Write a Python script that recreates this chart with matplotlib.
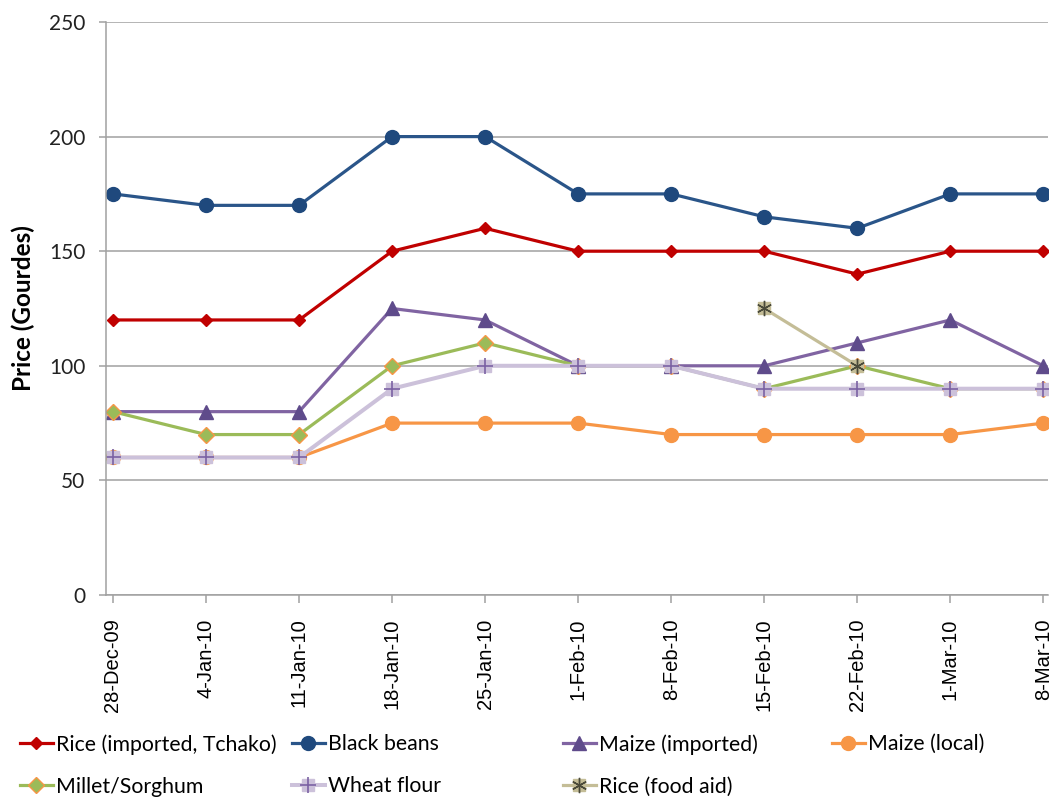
import numpy as np
import matplotlib.pyplot as plt
from matplotlib.lines import Line2D

# weekly market prices, Port-au-Prince (Gourdes)
dates = ['28-Dec-09', '4-Jan-10', '11-Jan-10', '18-Jan-10', '25-Jan-10', '1-Feb-10',
         '8-Feb-10', '15-Feb-10', '22-Feb-10', '1-Mar-10', '8-Mar-10']
nan = np.nan
rice_imported = [120, 120, 120, 150, 160, 150, 150, 150, 140, 150, 150]
black_beans = [175, 170, 170, 200, 200, 175, 175, 165, 160, 175, 175]
maize_imported = [80, 80, 80, 125, 120, 100, 100, 100, 110, 120, 100]
maize_local = [60, 60, 60, 75, 75, 75, 70, 70, 70, 70, 75]
millet_sorghum = [80, 70, 70, 100, 110, 100, 100, 90, 100, 90, 90]
wheat_flour = [60, 60, 60, 90, 100, 100, 100, 90, 90, 90, 90]
rice_food_aid = [nan, nan, nan, nan, nan, nan, nan, 125, 100, nan, nan]

x = np.arange(len(dates))

fig = plt.figure(figsize=(10.5, 7.98), dpi=100)
ax = fig.add_axes([106 / 1050, 1 - 595 / 798, 942 / 1050, 573 / 798])

lw = 2.3
handles = []

h = ax.plot(x, rice_imported, color='#C00000', lw=lw, marker='D', ms=6.5,
            mfc='#C00000', mec='#C00000', label='Rice (imported, Tchako)')[0]
handles.append(h)
h = ax.plot(x, black_beans, color='#2A5589', lw=lw, marker='o', ms=10,
            mfc='#1F497D', mec='#1F497D', label='Black beans')[0]
handles.append(h)
h = ax.plot(x, maize_imported, color='#8064A2', lw=lw, marker='^', ms=9.5,
            mfc='#5F4B8B', mec='#5F4B8B', label='Maize (imported)')[0]
handles.append(h)
h = ax.plot(x, maize_local, color='#F79646', lw=lw, marker='o', ms=10,
            mfc='#F79646', mec='#F79646', label='Maize (local)')[0]
handles.append(h)
h = ax.plot(x, millet_sorghum, color='#9BBB59', lw=lw, marker='D', ms=8,
            mfc='#9BBB59', mec='#F79646', mew=1, label='Millet/Sorghum')[0]
handles.append(h)
h1 = ax.plot(x, wheat_flour, color='#CCC1DA', lw=lw + 0.6, marker='s', ms=9,
             mfc='#CCC1DA', mec='#CCC1DA')[0]
h2 = ax.plot(x, wheat_flour, ls='none', marker='+', ms=11, mew=1.2, color='#7B62A3')[0]
handles.append((h1, h2))
h1 = ax.plot(x, rice_food_aid, color='#C4BD97', lw=lw, marker='s', ms=9,
             mfc='#C4BD97', mec='#C4BD97')[0]
h2 = ax.plot(x, rice_food_aid, ls='none', marker=(6, 2, 0), ms=11, mew=1, color='#4A4A3A')[0]
handles.append((h1, h2))

labels = ['Rice (imported, Tchako)', 'Black beans', 'Maize (imported)', 'Maize (local)',
          'Millet/Sorghum', 'Wheat flour', 'Rice (food aid)']

ax.set_xlim(-0.075, 10.05)
ax.set_ylim(0, 250)
ax.set_yticks([0, 50, 100, 150, 200, 250])
ax.set_xticks(x)
ax.set_xticklabels(dates, rotation=90, fontsize=14.5, family='Liberation Sans')
for t in ax.get_yticklabels():
    t.set_fontsize(15)
    t.set_family('Lato')
ax.yaxis.grid(True, color='#A0A0A0', lw=1.1)
ax.set_axisbelow(True)
for s in ['top', 'right']:
    ax.spines[s].set_visible(False)
for s in ['left', 'bottom']:
    ax.spines[s].set_color('#A0A0A0')
    ax.spines[s].set_linewidth(1.1)
ax.tick_params(axis='y', length=5, width=1.1, color='#A0A0A0', pad=10, labelcolor='#222222')
ax.tick_params(axis='x', length=6, width=1.1, color='#A0A0A0', pad=11)

ax.set_ylabel('Price (Gourdes)', fontsize=17.5, fontweight='bold', family='Lato')
ax.yaxis.set_label_coords(-0.0754, 0.5)

# legend laid out in four equal columns
col_x = [20, 292, 563, 832]
for c in range(4):
    leg = fig.legend([handles[i] for i in range(c, 7, 4)], [labels[i] for i in range(c, 7, 4)],
                     loc='upper left', bbox_to_anchor=(col_x[c] / 1050, 1 - 734 / 798),
                     frameon=False, borderpad=0, borderaxespad=0, handlelength=1.55,
                     handletextpad=0.15, labelspacing=1.05,
                     prop={'family': 'Lato', 'size': 15.3})

fig.savefig('out.png', dpi=100)
